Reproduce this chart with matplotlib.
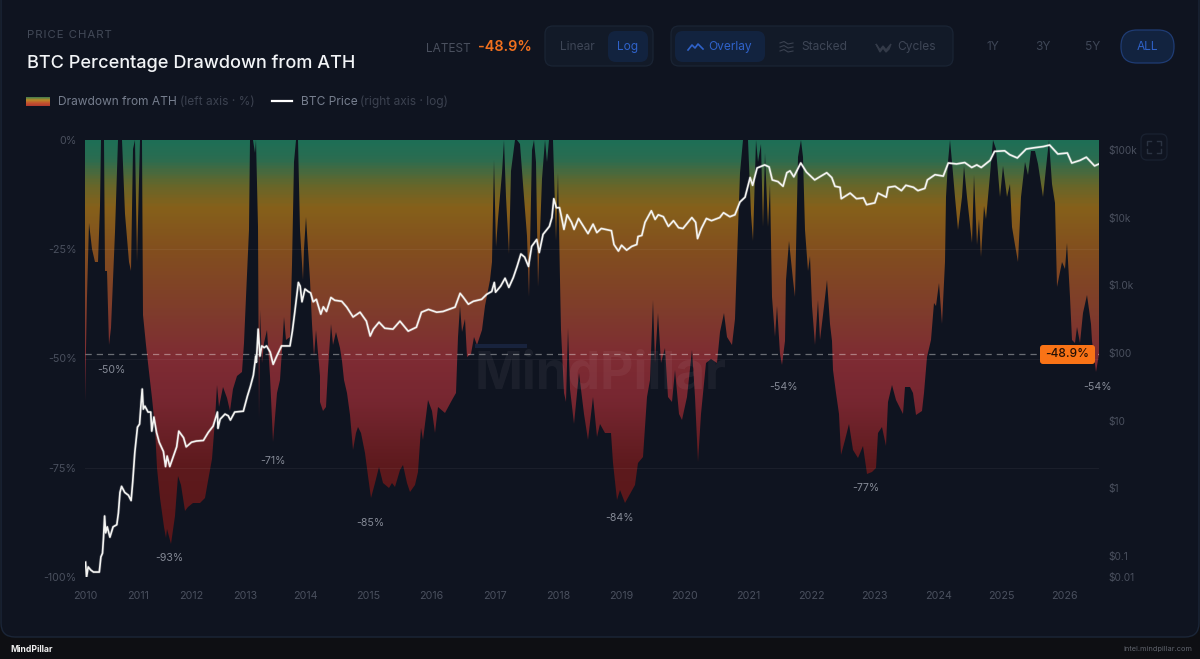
import numpy as np
import matplotlib
matplotlib.use("Agg")
import matplotlib.pyplot as plt
from matplotlib.colors import LinearSegmentedColormap
from matplotlib.patches import FancyBboxPatch, Rectangle

plt.rcParams['font.family'] = ['Inter', 'DejaVu Sans']

# Drawdown from ATH
dd_year = [2010.00, 2010.03, 2010.08, 2010.13, 2010.19, 2010.25, 2010.28, 2010.31, 2010.36, 2010.38, 2010.42, 2010.46, 2010.50, 2010.57, 2010.63, 2010.69, 2010.75, 2010.83, 2010.87, 2010.90, 2010.94, 2010.99, 2011.03, 2011.07, 2011.10, 2011.16, 2011.21, 2011.26, 2011.32, 2011.36, 2011.42, 2011.49, 2011.53, 2011.55, 2011.62, 2011.70, 2011.76, 2011.82, 2011.89, 2011.95,
           2012.04, 2012.17, 2012.26, 2012.32, 2012.38, 2012.44, 2012.49, 2012.52, 2012.60, 2012.66, 2012.72, 2012.78, 2012.85, 2012.94, 2012.98, 2013.02, 2013.06, 2013.08, 2013.14, 2013.17, 2013.19, 2013.22, 2013.24, 2013.25, 2013.28, 2013.32, 2013.36, 2013.41, 2013.47, 2013.53, 2013.58, 2013.61, 2013.65, 2013.69, 2013.75, 2013.79, 2013.82, 2013.85, 2013.88, 2013.92, 2013.96, 2013.99,
           2014.02, 2014.05, 2014.08, 2014.11, 2014.14, 2014.18, 2014.23, 2014.24, 2014.29, 2014.34, 2014.37, 2014.41, 2014.45, 2014.49, 2014.55, 2014.59, 2014.61, 2014.66, 2014.71, 2014.76, 2014.81, 2014.84, 2014.89, 2014.95, 2015.00, 2015.04, 2015.11, 2015.17, 2015.24, 2015.32, 2015.37, 2015.42, 2015.50, 2015.55, 2015.61, 2015.66, 2015.74, 2015.79, 2015.83, 2015.87, 2015.95, 2016.00, 2016.05, 2016.10,
           2016.21, 2016.32, 2016.38, 2016.42, 2016.45, 2016.48, 2016.53, 2016.56, 2016.62, 2016.67, 2016.71, 2016.79, 2016.84, 2016.92, 2016.96, 2016.98, 2017.01, 2017.05, 2017.11, 2017.14, 2017.18, 2017.22, 2017.26, 2017.32, 2017.35, 2017.40, 2017.45, 2017.50, 2017.54, 2017.58, 2017.61, 2017.65, 2017.68, 2017.74, 2017.79, 2017.83, 2017.86, 2017.91, 2017.96, 2017.99,
           2018.03, 2018.05, 2018.09, 2018.12, 2018.15, 2018.18, 2018.25, 2018.33, 2018.40, 2018.47, 2018.55, 2018.61, 2018.66, 2018.74, 2018.84, 2018.87, 2018.92, 2018.97, 2019.05, 2019.13, 2019.21, 2019.26, 2019.34, 2019.40, 2019.45, 2019.49, 2019.53, 2019.58, 2019.62, 2019.68, 2019.74, 2019.79, 2019.84, 2019.90, 2019.96,
           2020.03, 2020.11, 2020.16, 2020.20, 2020.26, 2020.34, 2020.42, 2020.50, 2020.56, 2020.62, 2020.67, 2020.74, 2020.79, 2020.84, 2020.87, 2020.92, 2021.00, 2021.04, 2021.08, 2021.12, 2021.16, 2021.20, 2021.23, 2021.27, 2021.32, 2021.34, 2021.37, 2021.42, 2021.45, 2021.50, 2021.54, 2021.58, 2021.60, 2021.65, 2021.70, 2021.74, 2021.79, 2021.83, 2021.86, 2021.89, 2021.94, 2021.97,
           2022.01, 2022.05, 2022.11, 2022.14, 2022.18, 2022.24, 2022.29, 2022.33, 2022.34, 2022.39, 2022.44, 2022.47, 2022.53, 2022.59, 2022.66, 2022.74, 2022.82, 2022.87, 2022.95, 2023.02, 2023.05, 2023.11, 2023.17, 2023.21, 2023.27, 2023.34, 2023.44, 2023.47, 2023.55, 2023.61, 2023.65, 2023.74, 2023.78, 2023.82, 2023.89, 2023.94, 2023.97,
           2024.01, 2024.06, 2024.11, 2024.13, 2024.16, 2024.18, 2024.22, 2024.26, 2024.32, 2024.37, 2024.41, 2024.45, 2024.53, 2024.56, 2024.61, 2024.64, 2024.68, 2024.72, 2024.76, 2024.82, 2024.87, 2024.92, 2024.97, 2025.03, 2025.08, 2025.13, 2025.17, 2025.21, 2025.26, 2025.31, 2025.37, 2025.42, 2025.47, 2025.53, 2025.58, 2025.66, 2025.71, 2025.75, 2025.79, 2025.84, 2025.88, 2025.95,
           2026.00, 2026.04, 2026.08, 2026.11, 2026.16, 2026.20, 2026.24, 2026.29, 2026.35, 2026.41, 2026.43, 2026.49, 2026.54]
dd_pct = [-60, -36, -19, -25, -28, -28, -15, 0, 0, -30, -30, -47, -43, -21, 0, 0, -17, -28, -30, -2, 0, -28, 0, 0, -40, -47, -53, -59, -66, -75, -82, -88.5, -91, -89, -92.5, -86, -77, -79, -85, -84,
          -83, -83, -82, -78, -73, -64, -56, -61, -56.5, -59, -62, -57, -54, -53, -46.5, -36, -20.6, 0, 0, -3, 0, -20, -64, -39, -51, -46.5, -43.5, -54, -69, -58, -55, -48, -40.5, -45.8, -45, -28.5, -5, 0, 0, -20.6, -32, -25,
          -17.6, -25, -32, -42, -49.6, -43.5, -54, -60, -62, -61, -52.6, -42, -47, -44, -47.6, -50.5, -55, -58, -63, -71, -67, -65.7, -67, -71.6, -77, -82, -78.5, -74.8, -78.5, -79.7, -78.5, -79.5, -75.5, -74.4, -78.5, -80.5, -79, -76, -66, -68.6, -59.5, -62, -67, -61,
          -62.5, -59.5, -58, -45, -38, -44, -41, -49.6, -49, -45, -47, -43.5, -38, -32, -28, -4.6, -24.5, -18, -7.6, 0, -13, -26, -7, 0, 0, -1, -10, -22, -36, -2.3, 0, -5, -33.6, -9, 0, -5, 0, 0, -23, -7.6,
          -32, -43.5, -58, -60, -43, -57, -65, -53.4, -62.6, -68.6, -58.7, -68, -65, -67, -67, -74, -82.4, -80, -83, -81, -79, -74, -72.6, -58.7, -55, -36.6, -51, -39.7, -51, -47.6, -58.7, -60, -52.6, -62.6, -64,
          -58.7, -48, -58.7, -73.7, -62.6, -51, -50, -51, -44, -39.7, -45, -47, -41, -20.6, -7.6, 0, 0, -17, -23, 0, -5, -1, -20, -3, -20, -10, -36, -45, -38, -49, -51.6, -46, -32, -23, -32, -36, -4, 0, -4, -20.6, -30, -26.6,
          -38, -47, -36.6, -45.8, -40, -32, -42, -46, -52.6, -58, -62.6, -72, -68.6, -65, -71, -72.8, -70, -76.4, -76, -75, -67, -65.6, -70, -60, -56, -59.5, -62.6, -56.5, -56.5, -58, -63, -62, -58, -49.6, -45.8, -37.3, -38,
          -32.8, -42, -28, -13, -5, 0, -5, -13, -20.6, -13, -6, -13, -23.6, -8, -24, -18, -26.7, -15, -18, -8, 0, -2, -13, -6, -13, -10, -20, -24, -28, -13, -5, -8, -2.5, -2.5, -5.5, -13, -6.5, 0, -10, -14.5, -33.6, -28,
          -29.5, -23.6, -36, -45.8, -46.5, -42.8, -46.5, -39.7, -35.5, -42, -46, -53, -48.9]

# BTC price
price_year = [2010.01, 2010.03, 2010.06, 2010.11, 2010.16, 2010.27, 2010.30, 2010.33, 2010.35, 2010.37, 2010.39, 2010.42, 2010.47, 2010.53, 2010.60, 2010.63, 2010.66, 2010.69, 2010.75, 2010.82, 2010.87, 2010.90, 2010.94, 2010.99,
              2011.03, 2011.06, 2011.08, 2011.10, 2011.13, 2011.19, 2011.24, 2011.26, 2011.30, 2011.35, 2011.40, 2011.48, 2011.52, 2011.55, 2011.60, 2011.67, 2011.73, 2011.77, 2011.86, 2011.91,
              2012.01, 2012.10, 2012.23, 2012.32, 2012.41, 2012.49, 2012.50, 2012.54, 2012.63, 2012.69, 2012.73, 2012.81, 2012.97,
              2013.04, 2013.09, 2013.14, 2013.18, 2013.19, 2013.22, 2013.25, 2013.28, 2013.32, 2013.36, 2013.42, 2013.47, 2013.53, 2013.61, 2013.69, 2013.75, 2013.79, 2013.83, 2013.87, 2013.89, 2013.92, 2013.95,
              2014.00, 2014.05, 2014.09, 2014.13, 2014.18, 2014.25, 2014.29, 2014.34, 2014.41, 2014.47, 2014.58, 2014.66, 2014.76, 2014.87, 2014.97,
              2015.03, 2015.08, 2015.17, 2015.26, 2015.39, 2015.50, 2015.63, 2015.76, 2015.84, 2015.95, 2016.08, 2016.18, 2016.37, 2016.45, 2016.50, 2016.58, 2016.66, 2016.79, 2016.87, 2016.95, 2016.99,
              2017.01, 2017.09, 2017.16, 2017.22, 2017.29, 2017.35, 2017.41, 2017.47, 2017.53, 2017.58, 2017.66, 2017.70, 2017.76, 2017.86, 2017.90, 2017.93, 2017.97,
              2018.02, 2018.05, 2018.09, 2018.14, 2018.21, 2018.25, 2018.32, 2018.40, 2018.47, 2018.55, 2018.61, 2018.68, 2018.84, 2018.88, 2018.95,
              2019.00, 2019.08, 2019.16, 2019.24, 2019.26, 2019.32, 2019.37, 2019.47, 2019.53, 2019.58, 2019.66, 2019.74, 2019.82, 2019.90, 2019.97,
              2020.11, 2020.17, 2020.20, 2020.26, 2020.34, 2020.42, 2020.55, 2020.61, 2020.71, 2020.79, 2020.87, 2020.95,
              2021.03, 2021.07, 2021.14, 2021.26, 2021.33, 2021.38, 2021.47, 2021.55, 2021.61, 2021.66, 2021.72, 2021.83, 2021.92,
              2022.05, 2022.13, 2022.24, 2022.32, 2022.37, 2022.45, 2022.47, 2022.61, 2022.71, 2022.82, 2022.87,
              2023.00, 2023.05, 2023.18, 2023.21, 2023.32, 2023.42, 2023.49, 2023.61, 2023.68, 2023.79, 2023.83, 2023.95,
              2024.08, 2024.16, 2024.29, 2024.42, 2024.53, 2024.61, 2024.68, 2024.82, 2024.89,
              2025.05, 2025.13, 2025.25, 2025.39, 2025.50, 2025.66, 2025.76, 2025.89, 2026.04, 2026.11, 2026.24, 2026.34, 2026.47, 2026.54]
price_usd = [.081, .049, .069, .062, .058, .058, .097, .11, .19, .39, .22, .27, .19, .27, .29, .43, .87, 1.07, .87, .79, .66, 1.23, 3.4, 8.0,
             8.9, 18.8, 29.3, 14.8, 16.4, 13.4, 13.4, 7, 11.3, 6.7, 4.8, 3.5, 2.1, 3.0, 2.1, 3.0, 4.1, 7, 5.6, 4.1,
             4.8, 5.0, 5.1, 6.7, 8.3, 13.4, 7.7, 10.5, 12.5, 11.8, 10.2, 13.4, 13.8,
             23, 32, 47, 90, 73, 225, 90, 127, 120, 127, 103, 68, 90, 127, 127, 127, 210, 400, 790, 1100, 970, 570,
             880, 810, 770, 570, 620, 375, 480, 410, 660, 600, 580, 475, 340, 400, 295,
             178, 225, 285, 232, 225, 295, 210, 240, 400, 440, 400, 410, 475, 760, 665, 525, 580, 620, 735, 810, 1100,
             790, 970, 1270, 930, 1300, 1900, 2900, 2600, 1900, 3750, 4750, 3050, 5650, 7400, 10000, 19000, 14000,
             14000, 10300, 6700, 11000, 8500, 6700, 9700, 7400, 5800, 8000, 6000, 6900, 6400, 4000, 3200,
             3900, 3300, 3750, 4000, 5250, 5450, 8500, 12600, 9400, 11000, 10300, 7400, 9000, 7100, 6900,
             10000, 8500, 4900, 6900, 9700, 9000, 10000, 11800, 10300, 11000, 17000, 20000,
             39000, 30000, 54000, 60000, 56000, 36000, 34000, 29000, 46000, 49000, 40000, 64000, 47000,
             36000, 40000, 46000, 39000, 29000, 28000, 19000, 23000, 19000, 19500, 15500,
             16500, 23000, 20000, 28000, 29000, 25000, 30000, 28000, 25000, 27000, 36000, 43000,
             41000, 64000, 62000, 65000, 55000, 60000, 55000, 70000, 95000,
             97000, 85000, 76000, 103000, 107000, 112000, 118000, 87000, 90000, 64000, 70000, 78000, 58000, 62000]

# Year axis is not evenly spaced in the original
year_ticks = list(range(2010, 2027))
year_gaps = [53, 53, 54, 60] + [63.33] * 12
price_ticks = [100000, 10000, 1000, 100, 10, 1, 0.1, 0.049]
price_labels = ['$100k', '$10k', '$1.0k', '$100', '$10', '$1', '$0.1', '$0.01']
pct_ticks = [0, -25, -50, -75, -100]

trough_year = [2010.49, 2011.60, 2013.47, 2015.03, 2018.96, 2021.55, 2022.86, 2026.51]
trough_pct = [-50, -93, -71, -85, -84, -54, -77, -54]
latest = -48.9

BG = '#0f1420'
TICK = '#4a505e'
BLUE = '#2f62c9'
W, H = 1200, 659

fig = plt.figure(figsize=(12, 6.59), dpi=100, facecolor='#0e0f13')

# page card and all the toolbar stuff live on a pixel overlay
bg = fig.add_axes([0, 0, 1, 1], zorder=0)
bg.set_xlim(0, W)
bg.set_ylim(H, 0)
bg.axis('off')
bg.add_patch(FancyBboxPatch((1, -20), W - 2, 657, boxstyle='round,pad=0,rounding_size=14',
                            fc=BG, ec='#1b2638', lw=1))

ax = fig.add_axes([85 / W, 1 - 577 / H, (1099 - 85) / W, (577 - 140) / H], zorder=1)
ax.patch.set_alpha(0)

tick_pos = np.cumsum([0] + year_gaps + [63.33])
tick_all = year_ticks + [2027]
ax.set_xscale('function', functions=(lambda v: np.interp(v, tick_all, tick_pos),
                                     lambda v: np.interp(v, tick_pos, tick_all)))

# area with vertical gradient, clipped to the drawdown curve
cmap = LinearSegmentedColormap.from_list('dd', [
    (0.00, '#1e6e55'), (0.04, '#2a6c50'), (0.10, '#66662a'), (0.15, '#85601a'),
    (0.25, '#824e1e'), (0.40, '#7e3a2c'), (0.50, '#7e2b33'), (0.60, '#762630'),
    (0.75, '#5c191c'), (1.00, '#5a1518')])
levels = np.linspace(0, -100, 301)
poly = ax.fill_between(dd_year, dd_pct, 0, color='none', lw=0)
mesh = ax.pcolormesh([2010, 2026.54], levels, np.linspace(0, 1, 300)[:, None], cmap=cmap,
                     vmin=0, vmax=1, shading='flat', zorder=1)
mesh.set_clip_path(poly.get_paths()[0], transform=ax.transData)

for p in pct_ticks[1:]:
    ax.axhline(p, color='white', alpha=0.05, lw=0.8, zorder=2)
ax.axhline(latest, color='white', alpha=0.38, lw=0.9, dashes=(5, 4), zorder=3)

for yr, p in zip(trough_year, trough_pct):
    ax.annotate(f'-{abs(p)}%', (yr, p), xytext=(0, -8), textcoords='offset points',
                ha='center', va='center', color='#858a96', fontsize=7.6, zorder=6, annotation_clip=False)

ax.set_xlim(2010, 2026.54)
ax.set_ylim(-100, 0)
ax.set_xticks(year_ticks)
ax.set_xticklabels([str(y) for y in year_ticks], color=TICK, fontsize=7.7)
ax.set_yticks(pct_ticks)
ax.set_yticklabels(['0%', '-25%', '-50%', '-75%', '-100%'], color=TICK, fontsize=7.7)
ax.xaxis.set_minor_locator(plt.NullLocator())
ax.tick_params(length=0, axis='x', pad=10)
ax.tick_params(length=0, axis='y', pad=6)
for s in ax.spines.values():
    s.set_visible(False)

ax2 = ax.twinx()
ax2.set_zorder(2)
ax2.patch.set_alpha(0)
ax2.set_yscale('log')
ax2.set_ylim(0.049, 140000)
ax2.plot(price_year, price_usd, color='white', alpha=0.18, lw=2.2, solid_joinstyle='round')
ax2.plot(price_year, price_usd, color='#f4f4f2', lw=1.2, solid_joinstyle='round')
ax2.set_yticks(price_ticks)
ax2.set_yticklabels(price_labels, color=TICK, fontsize=7.3)
ax2.yaxis.set_minor_locator(plt.NullLocator())
ax2.tick_params(length=0, pad=7)
for s in ax2.spines.values():
    s.set_visible(False)

ui = fig.add_axes([0, 0, 1, 1], zorder=3)
ui.set_xlim(0, W)
ui.set_ylim(H, 0)
ui.axis('off')


def pill(x0, y0, x1, y1, fc, ec='none', r=8):
    ui.add_patch(FancyBboxPatch((x0, y0), x1 - x0, y1 - y0, boxstyle=f'round,pad=0,rounding_size={r}',
                                fc=fc, ec=ec, lw=0.9))


def label(x, y, s, color, size=8.6, ha='center', weight='normal'):
    return ui.text(x, y + 1, s, color=color, fontsize=size, ha=ha, va='center', weight=weight)


# heading
label(27, 34, '\u200a'.join('PRICE CHART'), '#434a58', 8.2, 'left')
label(27, 62.5, 'BTC Percentage Drawdown from ATH', '#f2f4f7', 13.05, 'left', 'medium')
label(426, 48, 'LATEST', '#4a505e', 8.5, 'left')
label(478, 46, '-48.9%', '#f0701e', 10.4, 'left', 'semibold')

# scale buttons
pill(545, 26, 653, 66, '#121a28', '#1a2434')
pill(608, 31, 648, 62, '#12233f')
label(577, 46, 'Linear', '#3e4656')
label(628, 46, 'Log', BLUE)

# mode buttons
pill(671, 26, 953, 66, '#121a28', '#1a2434')
pill(675, 31, 765, 62, '#12233f')
ui.plot([688, 692, 695, 698, 703], [50, 45, 48, 44, 49], color=BLUE, lw=1.2)
label(730.5, 46, 'Overlay', BLUE)
for dy in (43, 47, 51):
    ui.plot([780, 784, 788, 793], [dy, dy - 1.5, dy + 1, dy], color='#3a4150', lw=0.8)
label(824.5, 46, 'Stacked', '#3e4656')
ui.fill([876, 880, 883, 886, 891, 889, 886, 883, 880], [44, 50, 46, 50, 44, 49, 52, 48, 52], color='#333a48')
label(917, 46, 'Cycles', '#3e4656')

# range buttons
label(993, 46, '1Y', '#3e4656')
label(1043, 46, '3Y', '#3e4656')
label(1093, 46, '5Y', '#3e4656')
pill(1121, 30, 1174, 63, '#12233f', '#1f3c74', r=16)
label(1147, 46, 'ALL', BLUE)

# legend
grad = ui.imshow(np.linspace(0, 1, 64)[:, None], cmap=LinearSegmentedColormap.from_list(
    'sw', ['#3f7d4e', '#b98a28', '#c4522e', '#b23a30']), extent=(26, 50, 106, 97), aspect='auto')
ui.set_xlim(0, W)
ui.set_ylim(H, 0)
label(58, 101, 'Drawdown from ATH', '#767e8e', 8.6, 'left')
label(180, 101, '(left axis \u00b7 %)', '#3c4250', 8.6, 'left')
ui.plot([272, 292], [101, 101], color='white', lw=1.6)
label(301, 101, 'BTC Price', '#767e8e', 8.6, 'left')
label(360, 101, '(right axis \u00b7 log)', '#3c4250', 8.6, 'left')

# watermark
ui.add_patch(Rectangle((475, 344), 52, 4, fc='#1c2a4a', ec='none', alpha=0.7))
ui.text(601, 375, 'MindPillar', color='white', alpha=0.05, fontsize=37, weight='bold', ha='center', va='center')

# fullscreen button
pill(1141, 134, 1167, 160, 'none', '#1a2231', r=6)
for cx, cy, sx, sy in [(1147, 141, 1, 1), (1161, 141, -1, 1), (1147, 153, 1, -1), (1161, 153, -1, -1)]:
    ui.plot([cx + 4 * sx, cx, cx], [cy, cy, cy + 4 * sy], color='#2b3342', lw=1)

# latest value tag
pill(1040, 345, 1095, 364, '#f97316', r=3)
label(1067.5, 353, '-48.9%', '#241005', 8.6, weight='medium')

# footer
label(10, 648, 'MindPillar', '#f0f0f0', 6.2, 'left', 'bold')
label(1192, 648, 'intel.mindpillar.com', '#5f636c', 5.3, 'right')

fig.savefig('out.png', dpi=100, facecolor=fig.get_facecolor())
